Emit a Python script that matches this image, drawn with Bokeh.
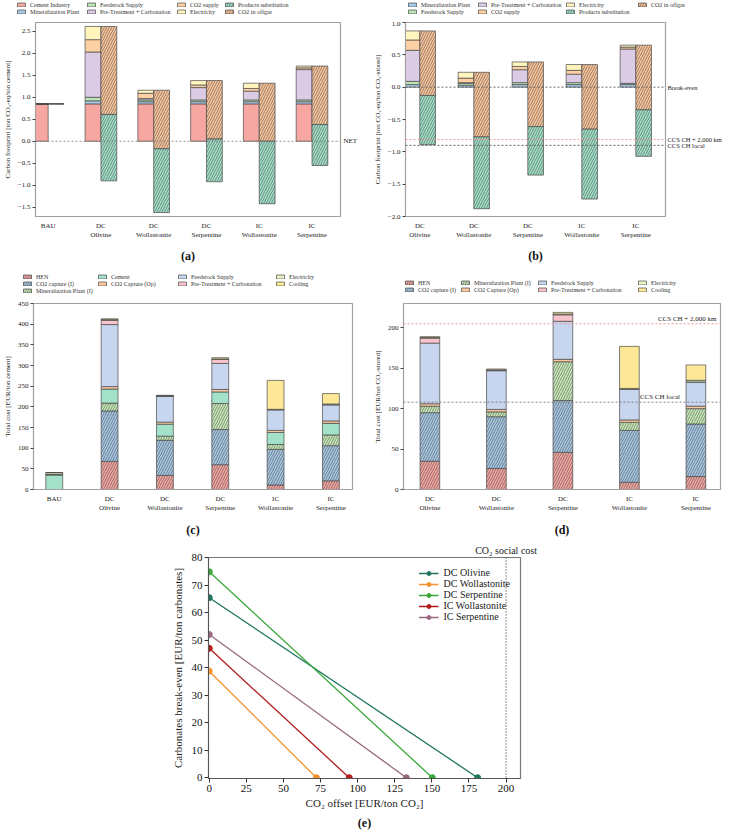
from bokeh.plotting import figure
from bokeh.models import (Legend, LegendItem, FixedTicker, Label, Span, Range1d, Spacer,
                          LinearAxis, CustomJSTickFormatter)
from bokeh.layouts import column, row
from bokeh.embed import file_html
from bokeh.resources import INLINE

FONT = "Liberation Serif"

# ---------------- Panel (a) data: carbon footprint per ton cement ----------------
a_categories = ["BAU", "DC\nOlivine", "DC\nWollastonite", "DC\nSerpentine", "IC\nWollastonite", "IC\nSerpentine"]
a_cement_industry = [0.85, 0.85, 0.85, 0.85, 0.85, 0.85]
a_mineralization_plant = [0.0, 0.07, 0.05, 0.05, 0.05, 0.05]
a_feedstock_supply = [0.0, 0.08, 0.04, 0.04, 0.04, 0.04]
a_pretreatment_carbonation = [0.0, 1.03, 0.03, 0.28, 0.20, 0.69]
a_co2_supply = [0.0, 0.28, 0.12, 0.06, 0.06, 0.04]
a_electricity = [0.0, 0.30, 0.07, 0.10, 0.12, 0.04]
a_co2_offgas = [0.0, -2.00, -1.33, -1.33, -1.32, -1.33]
a_products_substitution = [0.0, -1.51, -1.45, -0.97, -1.42, -0.93]
a_yticks = [-1.5, -1.0, -0.5, 0.0, 0.5, 1.0, 1.5, 2.0, 2.5]

# ---------------- Panel (b) data: carbon footprint per ton CO2 stored ----------------
b_categories = ["DC\nOlivine", "DC\nWollastonite", "DC\nSerpentine", "IC\nWollastonite", "IC\nSerpentine"]
b_mineralization_plant = [0.04, 0.03, 0.04, 0.04, 0.04]
b_feedstock_supply = [0.05, 0.03, 0.03, 0.03, 0.02]
b_pretreatment_carbonation = [0.48, 0.01, 0.20, 0.13, 0.53]
b_co2_supply = [0.16, 0.07, 0.05, 0.06, 0.03]
b_electricity = [0.14, 0.09, 0.07, 0.09, 0.03]
b_co2_offgas = [-1.00, -1.00, -1.00, -1.00, -1.00]
b_products_substitution = [-0.76, -1.11, -0.75, -1.08, -0.72]
b_yticks = [-2.0, -1.5, -1.0, -0.5, 0.0, 0.5, 1.0]
b_ref_values = [0.0, -0.81, -0.90]
b_ref_labels = ["Break-even", "CCS CH + 2,000 km", "CCS CH local"]

# ---------------- Panel (c) data: total cost per ton cement ----------------
c_categories = ["BAU", "DC\nOlivine", "DC\nWollastonite", "DC\nSerpentine", "IC\nWollastonite", "IC\nSerpentine"]
c_hen = [0, 68, 34, 60, 11, 21]
c_co2_capture_i = [0, 122, 85, 85, 86, 85]
c_mineralization_plant_i = [0, 19, 10, 63, 12, 26]
c_cement = [35, 34, 29, 28, 29, 28]
c_co2_capture_op = [2, 6, 5, 6, 5, 6]
c_feedstock_supply = [0, 150, 63, 63, 50, 39]
c_pretreatment_carbonation = [0, 10, 0, 10, 0, 0]
c_electricity = [4, 2, 1, 1, 1, 2]
c_cooling = [0, 2, 1, 3, 70, 25]
c_yticks = [0, 50, 100, 150, 200, 250, 300, 350, 400, 450]

# ---------------- Panel (d) data: total cost per ton CO2 stored ----------------
d_categories = ["DC\nOlivine", "DC\nWollastonite", "DC\nSerpentine", "IC\nWollastonite", "IC\nSerpentine"]
d_hen = [35, 26, 46, 9, 16]
d_co2_capture_i = [60, 64, 64, 64, 65]
d_mineralization_plant_i = [8, 6, 48, 10, 19]
d_co2_capture_op = [3, 3, 3, 3, 3]
d_feedstock_supply = [75, 48, 47, 38, 30]
d_pretreatment_carbonation = [6, 0, 8, 0, 0]
d_electricity = [1, 1, 1, 1, 2]
d_cooling = [1, 1, 2, 52, 19]
d_yticks = [0, 50, 100, 150, 200]
d_ccs_ch_2000km = 205
d_ccs_ch_local = 108

# ---------------- Panel (e) data: break-even lines ----------------
e_series = ["DC Olivine", "DC Wollastonite", "DC Serpentine", "IC Wollastonite", "IC Serpentine"]
e_breakeven_at_zero_offset = [65.4, 38.7, 74.8, 47.0, 52.0]
e_offset_at_zero_breakeven = [180.8, 72.2, 150.3, 94.3, 132.8]
e_colors = ["#1f7560", "#f5912e", "#3aa83a", "#b01c1c", "#98697f"]
e_social_cost = 200
e_xticks = [0, 25, 50, 75, 100, 125, 150, 175, 200]
e_yticks = [0, 10, 20, 30, 40, 50, 60, 70, 80]

COL = {
    "Cement Industry": "#f6a7a2",
    "Mineralization Plant": "#a8c9e6",
    "Feedstock Supply": "#bce5b6",
    "Pre-Treatment + Carbonation": "#dccbe5",
    "CO2 supply": "#fdd1a3",
    "Electricity": "#fff5bd",
    "Products substitution": "#a3e2c9",
    "CO2 in offgas": "#fbc79d",
    "HEN": "#f6a7a2",
    "CO2 capture (I)": "#a8c9e6",
    "Mineralization Plant (I)": "#c8ebb8",
    "Cement": "#a3e2c9",
    "CO2 Capture (Op)": "#fbc79d",
    "Feedstock Supply c": "#c7d5ee",
    "Pre-Treatment c": "#f8c3cb",
    "Electricity c": "#e5f3c6",
    "Cooling": "#fce896",
}
EDGE = "#4a4a4a"
HATCH = dict(hatch_color="#333333", hatch_weight=0.6, hatch_scale=5, hatch_alpha=0.85)
ROW_H = 7


def base_fig(width, height, x_range, y_range, mbl, mbr, mbt, mbb, fs="7px"):
    p = figure(width=width, height=height, x_range=x_range, y_range=y_range,
               output_backend="svg", toolbar_location=None, title=None,
               min_border_left=mbl, min_border_right=mbr,
               min_border_top=mbt, min_border_bottom=mbb)
    p.xgrid.visible = False
    p.ygrid.visible = False
    p.outline_line_color = "#a0a0a0"
    p.outline_line_width = 1.2
    for ax in (p.xaxis[0], p.yaxis[0]):
        ax.axis_line_color = "#a0a0a0"
        ax.major_tick_line_color = "#444444"
        ax.major_tick_in = 0
        ax.major_tick_out = 3
        ax.minor_tick_line_color = None
        ax.major_label_text_font = FONT
        ax.major_label_text_font_size = fs
        ax.major_label_text_color = "#222222"
        ax.axis_label_text_font = FONT
        ax.axis_label_text_font_size = fs
        ax.axis_label_text_font_style = "normal"
        ax.axis_label_text_color = "#222222"
        ax.major_label_standoff = 2
        ax.axis_label_standoff = 3
    return p


def bar_kw(color, hatch):
    kw = dict(fill_color=color, line_color=EDGE, line_width=0.7)
    if hatch:
        kw.update(hatch_pattern=hatch, **HATCH)
    return kw


def stack(p, xs, series, width, start=None):
    base = list(start) if start is not None else [0.0] * len(xs)
    for name, vals, color, hatch in series:
        top = [b + v for b, v in zip(base, vals)]
        p.vbar(x=xs, bottom=base, top=top, width=width, **bar_kw(color, hatch))
        base = top
    return base


def legend_fig(width, height, columns, xs, top):
    """Legend strip in its own small figure; proxy bars use the series data but lie
    outside this strip's ranges, so only the legend shows."""
    lf = figure(width=width, height=height, x_range=Range1d(-100, -99), y_range=Range1d(-100, -99),
                output_backend="svg", toolbar_location=None, title=None,
                min_border_left=0, min_border_right=0, min_border_top=0, min_border_bottom=0,
                x_axis_location=None, y_axis_location=None)
    lf.xgrid.visible = False
    lf.ygrid.visible = False
    lf.outline_line_color = None
    for col, x in zip(columns, xs):
        items = []
        for name, vals, color, hatch in col:
            r = lf.vbar(x=list(range(len(vals))), top=vals, width=0.3, **bar_kw(color, hatch))
            items.append(LegendItem(label=name, renderers=[r]))
        lf.add_layout(Legend(items=items, location=(x, height - top - ROW_H * len(col)),
                             orientation="vertical",
                             label_text_font=FONT, label_text_font_size="6px",
                             label_text_color="#333333", glyph_width=10, glyph_height=5,
                             label_height=ROW_H, label_standoff=4, spacing=0, padding=0, margin=0,
                             border_line_alpha=0, background_fill_alpha=0))
    return lf


def cat_axis(p, cats, caption, standoff):
    ax = p.xaxis[0]
    ax.ticker = FixedTicker(ticks=list(range(len(cats))))
    ax.major_label_overrides = {i: c for i, c in enumerate(cats)}
    ax.major_tick_line_color = None
    ax.axis_label = caption
    ax.axis_label_text_font_size = "12px"
    ax.axis_label_text_font_style = "bold"
    ax.axis_label_text_color = "#111111"
    ax.axis_label_standoff = standoff


def y_fmt(p, ticks, decimals=None):
    p.yaxis[0].ticker = FixedTicker(ticks=ticks)
    if decimals:
        p.yaxis[0].formatter = CustomJSTickFormatter(
            code="return tick.toFixed(%d).replace('-', '\u2212');" % decimals)


def label_axis(p, vals, labels, side, fs="7px", standoff=3):
    ax = LinearAxis(ticker=FixedTicker(ticks=vals),
                    formatter=CustomJSTickFormatter(
                        args=dict(vals=vals, labels=labels),
                        code="const i = vals.findIndex(v => Math.abs(v - tick) < 1e-9);"
                             "return i >= 0 ? labels[i] : '';"),
                    axis_line_color=None, major_tick_line_color=None, minor_tick_line_color=None,
                    major_tick_out=0, major_tick_in=0, major_label_standoff=standoff,
                    major_label_text_font=FONT, major_label_text_font_size=fs,
                    major_label_text_color="#222222")
    p.add_layout(ax, side)
    return ax


def pick(series, cols):
    d = {s[0]: s for s in series}
    return [[d[n] for n in c] for c in cols]


# =============== Panel (a) ===============
na = len(a_categories)
a_left = [
    ("Cement Industry", a_cement_industry, COL["Cement Industry"], None),
    ("Mineralization Plant", a_mineralization_plant, COL["Mineralization Plant"], None),
    ("Feedstock Supply", a_feedstock_supply, COL["Feedstock Supply"], None),
    ("Pre-Treatment + Carbonation", a_pretreatment_carbonation, COL["Pre-Treatment + Carbonation"], None),
    ("CO2 supply", a_co2_supply, COL["CO2 supply"], None),
    ("Electricity", a_electricity, COL["Electricity"], None),
]
a_right = [
    ("CO2 in offgas", a_co2_offgas, COL["CO2 in offgas"], "/"),
    ("Products substitution", a_products_substitution, COL["Products substitution"], "/"),
]
pa = base_fig(370, 247, Range1d(-0.24, 5.54), Range1d(-1.71, 2.70), 28, 30, 1, 52)
totals_a = stack(pa, [i - 0.15 for i in range(na)], a_left, 0.3)
stack(pa, [i + 0.15 for i in range(na)], a_right, 0.3, start=totals_a)
pa.add_layout(Span(location=0, dimension="width", line_color="#777777", line_dash="2 2", line_width=0.8))
label_axis(pa, [0.0], ["NET"], "right")
cat_axis(pa, a_categories, "(a)", 7)
y_fmt(pa, a_yticks, 1)
pa.yaxis[0].axis_label = "Carbon footprint [ton CO\u2082-eq/ton cement]"
a_leg_cols = [["Cement Industry", "Mineralization Plant"], ["Feedstock Supply", "Pre-Treatment + Carbonation"],
              ["CO2 supply", "Electricity"], ["Products substitution", "CO2 in offgas"]]
lfa = legend_fig(370, 21, pick(a_left + a_right, a_leg_cols), [16, 86, 176, 224], 1)

# =============== Panel (b) ===============
nb = len(b_categories)
b_left = [
    ("Mineralization Plant", b_mineralization_plant, COL["Mineralization Plant"], None),
    ("Feedstock Supply", b_feedstock_supply, COL["Feedstock Supply"], None),
    ("Pre-Treatment + Carbonation", b_pretreatment_carbonation, COL["Pre-Treatment + Carbonation"], None),
    ("CO2 supply", b_co2_supply, COL["CO2 supply"], None),
    ("Electricity", b_electricity, COL["Electricity"], None),
]
b_right = [
    ("CO2 in offgas", b_co2_offgas, COL["CO2 in offgas"], "/"),
    ("Products substitution", b_products_substitution, COL["Products substitution"], "/"),
]
pb = base_fig(354, 247, Range1d(-0.265, 4.55), Range1d(-2.0, 1.0), 32, 0, 1, 52)
totals_b = stack(pb, [i - 0.145 for i in range(nb)], b_left, 0.29)
stack(pb, [i + 0.145 for i in range(nb)], b_right, 0.29, start=totals_b)
for loc, colr in zip(b_ref_values, ["#555555", "#f08a8a", "#555555"]):
    pb.add_layout(Span(location=loc, dimension="width", line_color=colr, line_dash="2 2", line_width=0.9))
label_axis(pb, b_ref_values, b_ref_labels, "right", fs="6.5px", standoff=2)
cat_axis(pb, b_categories, "(b)", 7)
y_fmt(pb, b_yticks, 1)
pb.yaxis[0].axis_label = "Carbon footprint [ton CO\u2082-eq/ton CO\u2082-stored]"
b_leg_cols = [["Mineralization Plant", "Feedstock Supply"], ["Pre-Treatment + Carbonation", "CO2 supply"],
              ["Electricity", "Products substitution"], ["CO2 in offgas"]]
lfb = legend_fig(354, 21, pick(b_left + b_right, b_leg_cols), [37, 107, 195, 267], 1)

# =============== Panel (c) ===============
nc = len(c_categories)
c_series = [
    ("HEN", c_hen, COL["HEN"], "/"),
    ("CO2 capture (I)", c_co2_capture_i, COL["CO2 capture (I)"], "/"),
    ("Mineralization Plant (I)", c_mineralization_plant_i, COL["Mineralization Plant (I)"], "/"),
    ("Cement", c_cement, COL["Cement"], None),
    ("CO2 Capture (Op)", c_co2_capture_op, COL["CO2 Capture (Op)"], None),
    ("Feedstock Supply", c_feedstock_supply, COL["Feedstock Supply c"], None),
    ("Pre-Treatment + Carbonation", c_pretreatment_carbonation, COL["Pre-Treatment c"], None),
    ("Electricity", c_electricity, COL["Electricity c"], None),
    ("Cooling", c_cooling, COL["Cooling"], None),
]
pc = base_fig(370, 244, Range1d(-0.375, 5.39), Range1d(0, 450), 28, 18, 7, 51)
stack(pc, list(range(nc)), c_series, 0.305)
cat_axis(pc, c_categories, "(c)", 8)
y_fmt(pc, c_yticks)
pc.yaxis[0].axis_label = "Total cost [EUR/ton cement]"
c_leg_cols = [["HEN", "CO2 capture (I)", "Mineralization Plant (I)"], ["Cement", "CO2 Capture (Op)"],
              ["Feedstock Supply", "Pre-Treatment + Carbonation"], ["Electricity", "Cooling"]]
lfc = legend_fig(370, 28, pick(c_series, c_leg_cols), [22, 97, 177, 275], 5)

# =============== Panel (d) ===============
nd = len(d_categories)
d_series = [
    ("HEN", d_hen, COL["HEN"], "/"),
    ("CO2 capture (I)", d_co2_capture_i, COL["CO2 capture (I)"], "/"),
    ("Mineralization Plant (I)", d_mineralization_plant_i, COL["Mineralization Plant (I)"], "/"),
    ("CO2 Capture (Op)", d_co2_capture_op, COL["CO2 Capture (Op)"], None),
    ("Feedstock Supply", d_feedstock_supply, COL["Feedstock Supply c"], None),
    ("Pre-Treatment + Carbonation", d_pretreatment_carbonation, COL["Pre-Treatment c"], None),
    ("Electricity", d_electricity, COL["Electricity c"], None),
    ("Cooling", d_cooling, COL["Cooling"], None),
]
pd_ = base_fig(354, 244, Range1d(-0.397, 4.37), Range1d(0, 230), 28, 4, 7, 51)
stack(pd_, list(range(nd)), d_series, 0.296)
pd_.add_layout(Span(location=d_ccs_ch_2000km, dimension="width", line_color="#f08a8a",
                    line_dash="2 2", line_width=0.9))
pd_.add_layout(Span(location=d_ccs_ch_local, dimension="width", line_color="#777777",
                    line_dash="2 2", line_width=0.9))
pd_.add_layout(Label(x=4.31, y=d_ccs_ch_2000km, y_offset=1, text="CCS CH + 2,000 km", text_font=FONT,
                     text_font_size="7px", text_align="right", text_baseline="bottom", text_color="#222222"))
pd_.add_layout(Label(x=3.76, y=d_ccs_ch_local, y_offset=1, text="CCS CH local", text_font=FONT,
                     text_font_size="7px", text_align="right", text_baseline="bottom", text_color="#222222"))
cat_axis(pd_, d_categories, "(d)", 8)
y_fmt(pd_, d_yticks)
pd_.yaxis[0].axis_label = "Total cost [EUR/ton CO\u2082-stored]"
d_leg_cols = [["HEN", "CO2 capture (I)"], ["Mineralization Plant (I)", "CO2 Capture (Op)"],
              ["Feedstock Supply", "Pre-Treatment + Carbonation"], ["Electricity", "Cooling"]]
lfd = legend_fig(354, 28, pick(d_series, d_leg_cols), [34, 90, 167, 267], 11)

# =============== Panel (e) ===============
pe = base_fig(390, 292, Range1d(-0.5, 209.7), Range1d(-0.3, 80), 59, 19, 17, 52, fs="11px")
for ax in (pe.xaxis[0], pe.yaxis[0]):
    ax.axis_line_color = "#555555"
    ax.major_tick_line_color = "#333333"
    ax.major_tick_out = 4
    ax.major_label_text_color = "#111111"
pe.xaxis[0].axis_label_standoff = 2
pe.yaxis[0].axis_label_standoff = 5
pe.outline_line_color = "#777777"
pe.xaxis[0].ticker = FixedTicker(ticks=e_xticks)
pe.yaxis[0].ticker = FixedTicker(ticks=e_yticks)
pe.xaxis[0].axis_label = "CO\u2082 offset [EUR/ton CO\u2082]"
pe.yaxis[0].axis_label = "Carbonates break-even [EUR/ton carbonates]"
e_items = []
for name, y0, x0, colr in zip(e_series, e_breakeven_at_zero_offset, e_offset_at_zero_breakeven, e_colors):
    ln = pe.line([0, x0], [y0, 0], line_color=colr, line_width=1.3)
    sc = pe.scatter([0, x0], [y0, 0], marker="circle", size=6, fill_color=colr, line_color=colr)
    e_items.append(LegendItem(label=name, renderers=[ln, sc]))
pe.add_layout(Span(location=e_social_cost, dimension="height", line_color="#222222",
                   line_dash="1 2", line_width=1))
label_axis(pe, [e_social_cost], ["CO\u2082 social cost"], "above", fs="10px", standoff=2)
cap_e = LinearAxis(ticker=FixedTicker(ticks=[]), axis_line_color=None, major_tick_line_color=None,
                   minor_tick_line_color=None, major_tick_out=0, major_label_text_font_size="1px",
                   major_label_standoff=0, axis_label="(e)", axis_label_standoff=4,
                   axis_label_text_font=FONT, axis_label_text_font_size="12px",
                   axis_label_text_font_style="bold", axis_label_text_color="#111111")
pe.add_layout(cap_e, "below")
lge = Legend(items=e_items, location="top_right", label_text_font=FONT, label_text_font_size="10px",
             label_text_color="#222222", glyph_width=20, glyph_height=10, label_height=10,
             spacing=0, padding=4, margin=6, border_line_alpha=0, background_fill_alpha=0)
pe.add_layout(lge)

layout = column(row(lfa, lfb), row(pa, pb), row(lfc, lfd), row(pc, pd_),
                row(Spacer(width=149, height=10), pe))

open("out.html", "w").write(file_html(layout, INLINE))
